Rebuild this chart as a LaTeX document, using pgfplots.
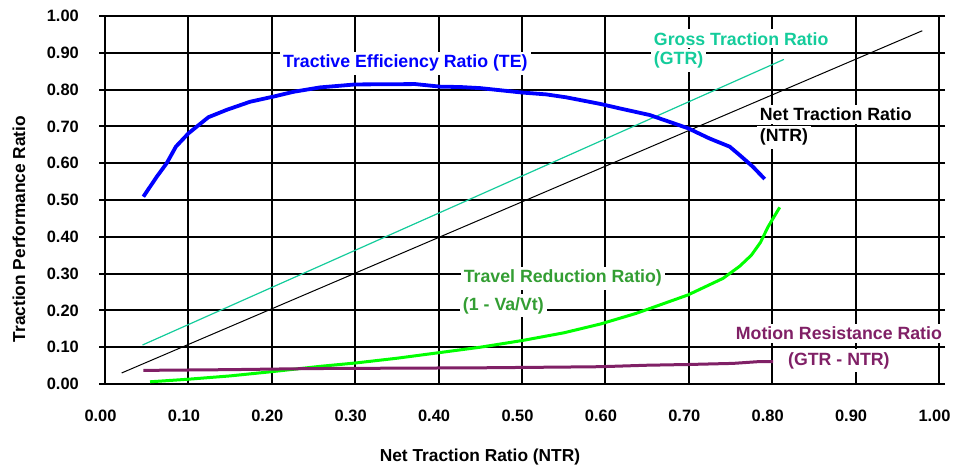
\documentclass[border=0pt]{standalone}
\usepackage{fontspec}
\setmainfont{Liberation Sans}
\usepackage{pgfplots}
\pgfplotsset{compat=1.18}
\definecolor{teRed}{RGB}{0,0,255}
\definecolor{gtrTeal}{RGB}{20,204,155}
\definecolor{trGreen}{RGB}{0,255,0}
\definecolor{trLabel}{RGB}{51,158,51}
\definecolor{mrPurple}{RGB}{128,32,102}
\tikzset{lbl/.style={font=\fontsize{17.8}{20}\selectfont\bfseries, fill=white, inner sep=3bp}}
\begin{document}
\begin{tikzpicture}
\useasboundingbox (-105bp,-84bp) rectangle (848bp,384bp);
\begin{axis}[
  at={(0,0)}, anchor=south west,
  scale only axis, width=834bp, height=368bp,
  xmin=0, xmax=1, ymin=0, ymax=1,
  clip=false,
  xtick={0,0.1,0.2,0.3,0.4,0.5,0.6,0.7,0.8,0.9,1},
  ytick={0,0.1,0.2,0.3,0.4,0.5,0.6,0.7,0.8,0.9,1},
  grid=major,
  major grid style={black, line width=2bp},
  axis line style={black, line width=2.2bp},
  tick align=outside, major tick length=6bp,
  tick style={black, line width=2bp},
  xtick style={draw=none},
  ticklabel style={font=\fontsize{16.5}{18}\selectfont\bfseries},
  yticklabel style={anchor=east, inner sep=0pt, xshift=-20bp},
  xticklabel style={anchor=north, inner sep=0pt, yshift=-20bp, xshift=-4.5bp},
  /pgf/number format/.cd, fixed, fixed zerofill, precision=2, assume math mode=true, /pgfplots/.cd,
  xlabel={Net Traction Ratio (NTR)},
  ylabel={Traction Performance Ratio},
  label style={font=\fontsize{17.4}{20}\selectfont\bfseries},
  xlabel style={at={(axis description cs:0.4496,-0.198)}, anchor=center},
  ylabel style={at={(axis description cs:-0.1031,0.421)}, anchor=center, rotate=0},
]
% Net Traction Ratio
\addplot[black, line width=1bp] coordinates {(0.02,0.03) (0.98,0.96)};
% Gross Traction Ratio
\addplot[gtrTeal, line width=1.2bp] coordinates {(0.045,0.106) (0.814,0.882)};
% Tractive Efficiency
\addplot[teRed, line width=3.8bp, line join=round] coordinates {
(0.046,0.509) (0.062,0.563) (0.074,0.600) (0.085,0.645) (0.100,0.681)
(0.124,0.725) (0.146,0.745) (0.174,0.767) (0.202,0.781) (0.226,0.794)
(0.258,0.806) (0.300,0.814) (0.372,0.815) (0.402,0.808) (0.426,0.807)
(0.450,0.804) (0.500,0.792) (0.529,0.787) (0.553,0.779) (0.594,0.761)
(0.617,0.749) (0.653,0.731) (0.699,0.695) (0.725,0.667) (0.749,0.645)
(0.761,0.622) (0.777,0.590) (0.791,0.557)};
% Travel Reduction
\addplot[trGreen, line width=3bp, line join=round] coordinates {
(0.054,0.006) (0.100,0.013) (0.150,0.022) (0.202,0.034) (0.258,0.048)
(0.300,0.057) (0.350,0.070) (0.400,0.085) (0.450,0.100) (0.500,0.118)
(0.550,0.139) (0.594,0.163) (0.637,0.192) (0.699,0.242) (0.741,0.287)
(0.761,0.320) (0.775,0.350) (0.786,0.385) (0.795,0.427) (0.809,0.480)};
% Motion Resistance
\addplot[mrPurple, line width=3bp, line join=round] coordinates {
(0.046,0.037) (0.150,0.039) (0.250,0.042) (0.350,0.043) (0.450,0.044)
(0.550,0.046) (0.594,0.047) (0.650,0.051) (0.699,0.053) (0.753,0.056)
(0.785,0.061) (0.801,0.061)};
% labels
\node[lbl, text=teRed, anchor=base west, xshift=-3bp] at (axis cs:0.2134,0.859) {Tractive Efficiency Ratio (TE)};
\node[lbl, text=gtrTeal, anchor=base west, xshift=-3bp] at (axis cs:0.658,0.921) {Gross Traction Ratio};
\node[lbl, text=gtrTeal, anchor=base west, xshift=-3bp] at (axis cs:0.658,0.867) {(GTR)};
\node[lbl, text=black, anchor=base west, xshift=-3bp] at (axis cs:0.785,0.715) {Net Traction Ratio};
\node[lbl, text=black, anchor=base west, xshift=-3bp] at (axis cs:0.785,0.658) {(NTR)};
\node[lbl, text=trLabel, anchor=base west, xshift=-3bp] at (axis cs:0.430,0.2745) {Travel Reduction Ratio)};
\node[lbl, text=trLabel, anchor=base west, xshift=-3bp] at (axis cs:0.429,0.201) {(1 - Va/Vt)};
\node[lbl, text=mrPurple, anchor=base] at (axis cs:0.880,0.1196) {Motion Resistance Ratio};
\node[lbl, text=mrPurple, anchor=base] at (axis cs:0.880,0.0516) {(GTR - NTR)};
\end{axis}
\end{tikzpicture}
\end{document}
